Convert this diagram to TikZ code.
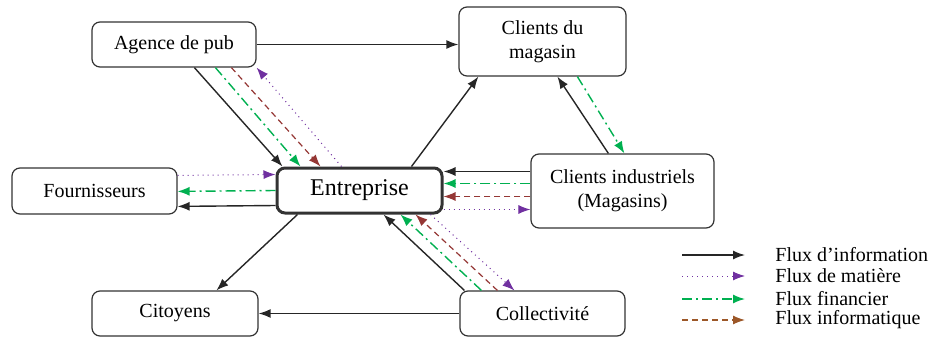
\documentclass[tikz,border=0pt]{standalone}
\usepackage{fontspec}
\setmainfont{Liberation Serif}
\usetikzlibrary{arrows.meta, positioning, calc}
\definecolor{matpurple}{RGB}{112, 48, 160}
\definecolor{fingreen}{RGB}{0, 176, 80}
\definecolor{infored}{RGB}{149, 55, 53}
\definecolor{legbrown}{RGB}{156, 87, 40}

\tikzset{
  box/.style={draw=black!80, line width=0.6pt, rounded corners=4pt, align=center,
    font=\fontsize{10}{12}\selectfont},
  tip/.style={-{Latex[length=6pt, width=4.5pt]}},
  info/.style={tip, line width=0.7pt, black!85},
  matiere/.style={tip, line width=0.5pt, matpurple, dotted},
  finance/.style={tip, line width=0.7pt, fingreen, dash pattern=on 5pt off 2pt on 1pt off 2pt},
  informa/.style={tip, line width=0.6pt, infored, dash pattern=on 3pt off 2pt},
  legtext/.style={anchor=west, inner sep=0pt, font=\fontsize{10}{12}\selectfont}
}

\begin{document}
\begin{tikzpicture}[x=0.5pt, y=-0.5pt]
  \useasboundingbox (0, 0) rectangle (928, 338);

  % boxes
  \node[box, minimum width=82pt, minimum height=22.5pt] (agence) at (174, 44.5) {Agence de pub};
  \node[box, minimum width=83.5pt, minimum height=34.5pt] (magasin) at (542.5, 41.5) {Clients du\\magasin};
  \node[box, minimum width=82.5pt, minimum height=23pt] (fourn) at (94.5, 191) {Fournisseurs};
  \node[box, line width=1.5pt, minimum width=82.5pt, minimum height=22.5pt,
    font=\fontsize{12}{14}\selectfont] (entr) at (359.5, 190.5) {Entreprise};
  \node[box, minimum width=91.5pt, minimum height=37pt] (indus) at (622.5, 191) {Clients industriels\\(Magasins)};
  \node[box, minimum width=83pt, minimum height=22.5pt] (citoyens) at (175, 313.5) {Citoyens};
  \node[box, minimum width=82.5pt, minimum height=22.5pt] (collec) at (542.5, 313.5) {Collectivité};

  % agence de pub
  \draw[info] (agence.east) -- (agence.east -| magasin.west);
  \draw[info] ($(agence.south west)+(103, 0)$) -- ($(entr.north west)+(7, 0)$);
  \draw[finance] ($(agence.south west)+(124, 0)$) -- ($(entr.north west)+(25, 0)$);
  \draw[informa] ($(agence.south west)+(140, 0)$) -- ($(entr.north west)+(45, 0)$);
  \draw[matiere] ($(entr.north west)+(66, 0)$) -- (agence.south east);

  % fournisseurs
  \draw[matiere] ($(fourn.north east)+(0, 8)$) -- ($(entr.north west)+(0, 8)$);
  \draw[finance] ($(entr.north west)+(0, 24)$) -- ($(fourn.north east)+(0, 24)$);
  \draw[info] ($(entr.north west)+(0, 39)$) -- ($(fourn.north east)+(0, 39)$);

  % citoyens, clients du magasin
  \draw[info] ($(entr.south west)+(22, 0)$) -- ($(citoyens.north west)+(125, 0)$);
  \draw[info] ($(entr.north west)+(136, 0)$) -- ($(magasin.south west)+(20, 0)$);
  \draw[info] ($(indus.north west)+(78, 0)$) -- ($(magasin.south west)+(99, 0)$);
  \draw[finance] ($(magasin.south west)+(119, 0)$) -- ($(indus.north west)+(94, 0)$);

  % clients industriels
  \coordinate (e1) at ($(entr.north east)+(0, 5)$);
  \coordinate (e2) at ($(entr.north east)+(0, 17)$);
  \coordinate (e3) at ($(entr.north east)+(0, 30)$);
  \coordinate (e4) at ($(entr.north east)+(0, 43)$);
  \draw[info] (e1 -| indus.west) -- (e1);
  \draw[finance] (e2 -| indus.west) -- (e2);
  \draw[informa] (e3 -| indus.west) -- (e3);
  \draw[matiere] (e4) -- (e4 -| indus.west);

  % collectivite
  \draw[info] ($(collec.north west)+(5, 0)$) -- ($(entr.south west)+(108, 0)$);
  \draw[finance] ($(collec.north west)+(22, 0)$) -- ($(entr.south west)+(125, 0)$);
  \draw[informa] ($(collec.north west)+(38, 0)$) -- ($(entr.south west)+(140, 0)$);
  \draw[matiere] ($(entr.south west)+(155, 0)$) -- ($(collec.north west)+(55, 0)$);
  \draw[info] (collec.west) -- (citoyens.east);

  % legend
  \node[legtext] (lginfo) at (775, 255) {Flux d’information};
  \node[legtext] (lgmat) at (775, 276) {Flux de matière};
  \node[legtext] (lgfin) at (775, 299) {Flux financier};
  \node[legtext] (lginf) at (775, 320) {Flux informatique};
  \draw[info] ($(lginfo.west)+(-93, 0)$) -- ($(lginfo.west)+(-30, 0)$);
  \draw[matiere] ($(lgmat.west)+(-93, 0)$) -- ($(lgmat.west)+(-30, 0)$);
  \draw[finance] ($(lgfin.west)+(-93, 0)$) -- ($(lgfin.west)+(-30, 0)$);
  \draw[informa, legbrown] ($(lginf.west)+(-93, 0)$) -- ($(lginf.west)+(-30, 0)$);
\end{tikzpicture}
\end{document}
